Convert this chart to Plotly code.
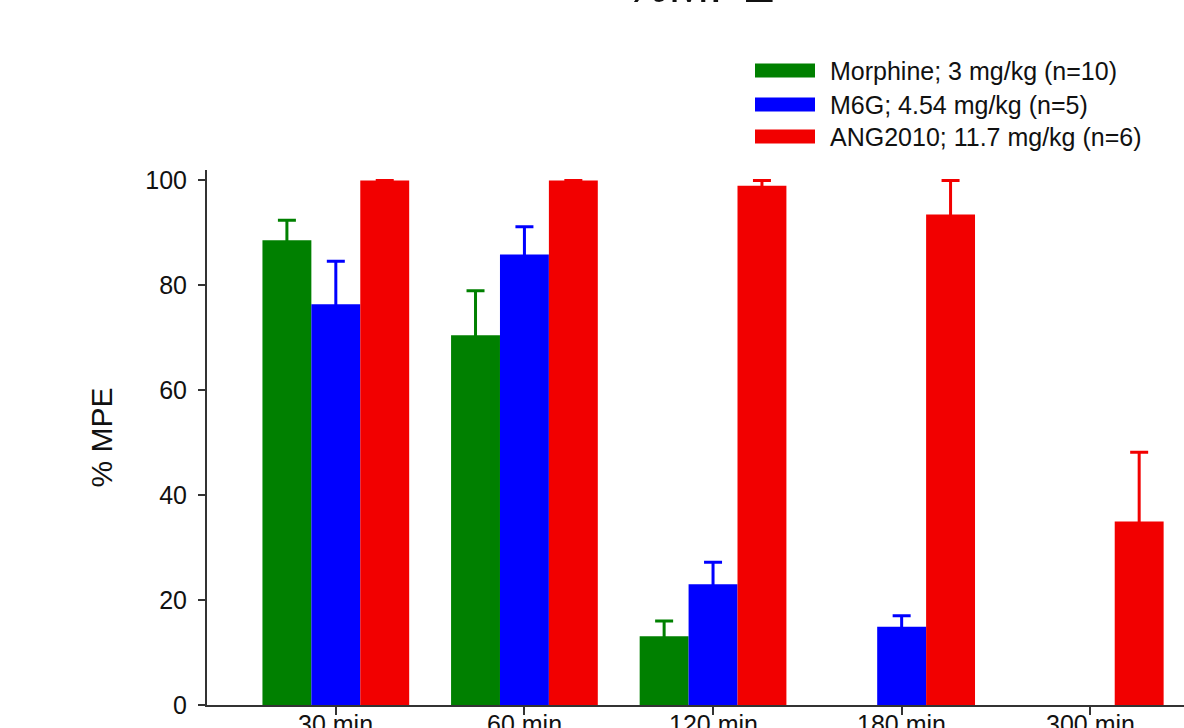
import plotly.graph_objects as go

categories = ["30 min", "60 min", "120 min", "180 min", "300 min"]

morphine = [88.6, 70.5, 13.1, None, None]
morphine_err = [3.8, 8.5, 2.9, None, None]

m6g = [76.4, 85.9, 23.0, 14.9, None]
m6g_err = [8.2, 5.3, 4.2, 2.1, None]

ang = [100.0, 100.0, 99.0, 93.5, 35.0]
ang_err = [None, None, 1.0, 6.5, 13.2]

series_names = ["Morphine; 3 mg/kg (n=10)", "M6G; 4.54 mg/kg (n=5)", "ANG2010; 11.7 mg/kg (n=6)"]
colors = ["rgb(0,128,0)", "rgb(0,0,255)", "rgb(242,0,0)"]

FONT = "Liberation Sans, Arial, sans-serif"

fig = go.Figure()
for name, vals, errs, col in zip(series_names, [morphine, m6g, ang], [morphine_err, m6g_err, ang_err], colors):
    fig.add_trace(go.Bar(
        x=categories, y=vals, name=name,
        marker=dict(color=col, line=dict(width=0)),
        error_y=dict(type="data", array=errs, symmetric=True,
                     color=col, thickness=3, width=9),
        showlegend=False,
    ))

# x category labels (placed close to the axis as in the reference crop)
for cat in categories:
    fig.add_annotation(text=cat, xref="x", yref="paper", x=cat, y=-3 / 535.5,
                       xanchor="center", yanchor="top", showarrow=False,
                       font=dict(family=FONT, size=25, color="#111"))

# custom legend with wide swatches
leg_y = [70, 104, 136]
for name, col, yy in zip(series_names, colors, leg_y):
    fig.add_shape(type="rect", xref="paper", yref="paper",
                  x0=(755 - 207) / 977, x1=(815 - 207) / 977,
                  y0=(705 - (yy + 7)) / 535.5, y1=(705 - (yy - 7)) / 535.5,
                  fillcolor=col, line=dict(width=0))
    fig.add_annotation(text=name, xref="paper", yref="paper",
                       x=(828 - 207) / 977, y=(705 - yy) / 535.5,
                       xanchor="left", yanchor="middle", showarrow=False,
                       font=dict(family=FONT, size=25, color="#111"))

fig.add_annotation(text="% MPE", xref="paper", yref="paper", x=(101 - 207) / 977, y=0.5,
                   textangle=-90, showarrow=False, xanchor="center", yanchor="middle",
                   font=dict(family=FONT, size=30, color="#111"))

# top title (mostly outside the visible area in the reference crop)
fig.add_annotation(text="%MPE", xref="paper", yref="paper", x=(700 - 207) / 977, y=1.2925,
                   xanchor="center", yanchor="bottom", showarrow=False,
                   font=dict(family=FONT, size=49, color="#111"))

fig.update_layout(
    width=1184, height=728,
    margin=dict(l=207, r=0, t=170, b=23, autoexpand=False),
    barmode="group", bargap=0.222, bargroupgap=0,
    plot_bgcolor="white", paper_bgcolor="white",
    font=dict(family=FONT, size=24, color="#111"),
)
fig.update_xaxes(range=[-0.683, 4.497], showline=True, linecolor="#333", linewidth=2,
                 ticks="outside", ticklen=8, tickwidth=2, tickcolor="#333",
                 showgrid=False, zeroline=False, automargin=False,
                 showticklabels=False)
fig.update_yaxes(range=[0, 102], tickvals=[0, 20, 40, 60, 80, 100], showline=True,
                 linecolor="#333", linewidth=2, ticks="outside", ticklen=7, tickwidth=2,
                 tickcolor="#333", showgrid=False, zeroline=False, automargin=False,
                 ticklabelstandoff=6,
                 tickfont=dict(family=FONT, size=25, color="#111"))

fig.write_html("out.html")
